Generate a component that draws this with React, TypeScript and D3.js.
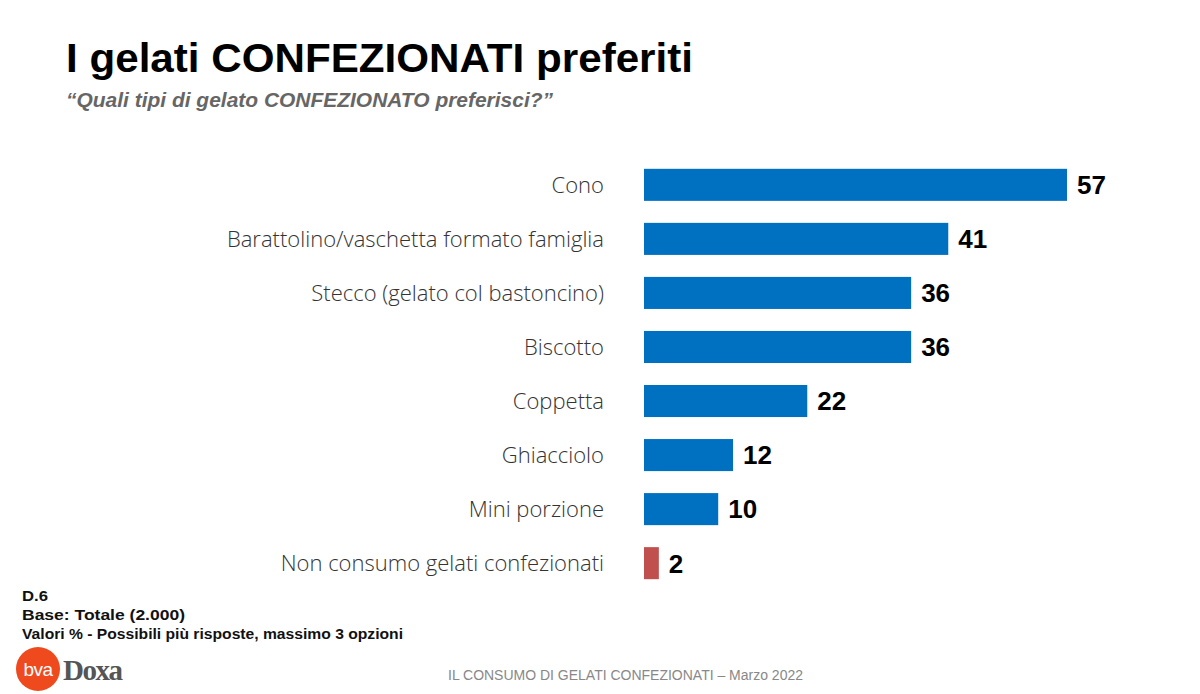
import React from "react";
import * as d3 from "d3";

const categories = [
  "Cono",
  "Barattolino/vaschetta formato famiglia",
  "Stecco (gelato col bastoncino)",
  "Biscotto",
  "Coppetta",
  "Ghiacciolo",
  "Mini porzione",
  "Non consumo gelati confezionati",
];
const values = [57, 41, 36, 36, 22, 12, 10, 2];
const highlight = [false, false, false, false, false, false, false, true];

const title = "I gelati CONFEZIONATI preferiti";
const subtitle = "\u201cQuali tipi di gelato CONFEZIONATO preferisci?\u201d";
const notes = ["D.6", "Base: Totale (2.000)", "Valori % - Possibili più risposte, massimo 3 opzioni"];
const noteWidths = [26, 163, 381];
const footer = "IL CONSUMO DI GELATI CONFEZIONATI \u2013 Marzo 2022";

export default function App() {
  const W = 1200, H = 694;
  const x = d3.scaleLinear().domain([0, 57]).range([644, 1067]);
  const y = d3.scaleBand<string>().domain(categories).range([158, 590]).paddingInner(0.407).paddingOuter(0.2);
  const font = "'Liberation Sans', Arial, sans-serif";
  return (
    <svg width={W} height={H} style={{ position: "absolute", left: 0, top: 0, background: "#fff" }} fontFamily={font}>
      <rect width={W} height={H} fill="#fff" />
      <text x={66} y={72} fontSize={40} fontWeight="bold" fill="#000" textLength={627} lengthAdjust="spacingAndGlyphs">{title}</text>
      <text x={66} y={107} fontSize={20} fontWeight="bold" fontStyle="italic" fill="#666" textLength={487} lengthAdjust="spacingAndGlyphs">{subtitle}</text>
      {categories.map((c, i) => {
        const by = y(c)!;
        const bh = y.bandwidth();
        const cy = by + bh / 2;
        return (
          <g key={c}>
            <text x={604} y={cy} dy="0.35em" textAnchor="end" fontSize={22} fontWeight={300} fill="#333" fontFamily="'Open Sans', sans-serif">{c}</text>
            <rect x={x(0)} y={by} width={x(values[i]) - x(0)} height={bh} fill={highlight[i] ? "#C0504D" : "#0070C0"} />
            <text x={x(values[i]) + 10} y={cy} dy="0.36em" fontSize={26} fontWeight="bold" fill="#000">{values[i]}</text>
          </g>
        );
      })}
      {notes.map((n, i) => (
        <text key={n} x={22} y={601 + i * 19} fontSize={14} fontWeight="bold" fill="#111" textLength={noteWidths[i]} lengthAdjust="spacingAndGlyphs">{n}</text>
      ))}
      <circle cx={38} cy={669} r={22} fill="#EE4A1E" />
      <text x={38} y={676} textAnchor="middle" fontSize={19} fill="#fff" letterSpacing={-0.5}>bva</text>
      <text x={63} y={680} fontSize={29} fontWeight="bold" fill="#555" fontFamily="'Liberation Serif', serif" letterSpacing={-1.5}>Doxa</text>
      <text x={448} y={680} fontSize={14} fill="#888" textLength={355} lengthAdjust="spacingAndGlyphs">{footer}</text>
    </svg>
  );
}
